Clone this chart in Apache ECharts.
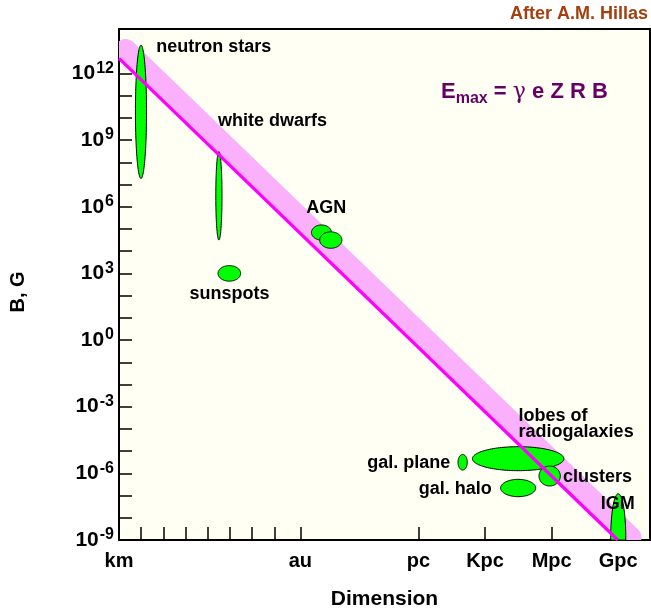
<!DOCTYPE html>
<html><head><meta charset="utf-8">
<script src="https://cdn.jsdelivr.net/npm/echarts@6/dist/echarts.min.js"></script>
<style>html,body{margin:0;padding:0;background:#fff}#c{width:651px;height:608px}</style>
</head><body><div id="c"></div>
<script>
// x: log10(size / m), y: log10(B / G)
const xTickValues = [4, 5, 6, 7, 8, 9, 10, 11.17, 16.49, 19.49, 22.49, 25.49];
const xLabelValues = [3, 11.17, 16.49, 19.49, 22.49, 25.49];
const xLabelNames = ['km', 'au', 'pc', 'Kpc', 'Mpc', 'Gpc'];

// objects (ellipses): centre log R, centre log B, half-width and half-height in decades
const objectNames = ['neutron stars', 'white dwarfs', 'sunspots', 'AGN a', 'AGN b', 'gal. plane', 'lobes', 'gal. halo', 'clusters', 'IGM'];
const objectLogR  = [3.99, 7.50, 7.97, 12.12, 12.54, 18.48, 20.98, 20.98, 22.40, 25.49];
const objectLogB  = [10.27, 6.49, 3.00, 4.84, 4.50, -5.50, -5.34, -6.66, -6.12, -8.90];
const objectHalfR = [0.25, 0.14, 0.51, 0.45, 0.50, 0.21, 2.06, 0.79, 0.48, 0.34];
const objectHalfB = [3.00, 1.99, 0.35, 0.34, 0.37, 0.35, 0.54, 0.39, 0.45, 1.98];

// Hillas line and band (band centre line end points)
const hillasLine = [[3, 12.68], [25.47, -9]];
const hillasBand = [[3.3, 13.07], [26.05, -8.88]];

// annotation texts
const labelTexts = ['neutron stars', 'white dwarfs', 'sunspots', 'AGN', 'lobes of\nradiogalaxies', 'gal. plane', 'gal. halo', 'clusters', 'IGM'];
const labelLogR  = [4.68, 7.46, 6.18, 11.43, 21.0, 17.92, 19.79, 23.0, 24.70];
const labelLogB  = [13.19, 9.86, 2.06, 5.96, -3.80, -5.53, -6.70, -6.18, -7.38];
const labelAlign = ['left', 'left', 'left', 'left', 'left', 'right', 'right', 'left', 'left'];

const FONT = '"Liberation Sans", Arial, Helvetica, sans-serif';
const chart = echarts.init(document.getElementById('c'));

chart.setOption({
  animation: false,
  backgroundColor: '#ffffff',
  grid: {left: 119, right: 1, top: 29, bottom: 68, show: true, backgroundColor: '#fffff4',
         borderColor: '#000', borderWidth: 2, outerBoundsMode: 'none'},
  xAxis: {
    type: 'value', min: 3, max: 26.92,
    axisLine: {onZero: false, lineStyle: {color: '#000', width: 2}},
    axisTick: {inside: true, length: 13, customValues: xTickValues, lineStyle: {color: '#000', width: 1.5}},
    axisLabel: {customValues: xLabelValues, margin: 11, color: '#000', fontSize: 20, fontWeight: 'bold', fontFamily: FONT,
      formatter: v => { const i = xLabelValues.findIndex(x => Math.abs(x - v) < 1e-6); return i >= 0 ? xLabelNames[i] : ''; }},
    splitLine: {show: false},
    name: 'Dimension', nameLocation: 'middle', nameGap: 49,
    nameTextStyle: {color: '#000', fontSize: 21, fontWeight: 'bold', fontFamily: FONT}
  },
  yAxis: {
    type: 'value', min: -9, max: 14, interval: 1,
    axisLine: {onZero: false, lineStyle: {color: '#000', width: 2}},
    axisTick: {inside: true, length: 13, lineStyle: {color: '#000', width: 1.5}},
    axisLabel: {margin: 5, color: '#000', fontFamily: FONT,
      formatter: v => { const n = Math.round(v); return n % 3 === 0 ? '{b|10}{s|' + n + '}' : ''; },
      rich: {
        b: {fontSize: 21, fontWeight: 'bold', fontFamily: FONT, color: '#000', lineHeight: 26, verticalAlign: 'middle'},
        s: {fontSize: 16, fontWeight: 'bold', fontFamily: FONT, color: '#000', lineHeight: 12, verticalAlign: 'top', padding: [0, 0, 0, 1]}
      }},
    splitLine: {show: false}
  },
  graphic: [
    {type: 'text', right: 3, top: 5, style: {text: 'After A.M. Hillas', fill: '#a3400f', font: 'bold 18px ' + FONT}},
    {type: 'text', x: 18, y: 292, rotation: Math.PI / 2,
     style: {text: 'B, G', fill: '#000', font: 'bold 20px ' + FONT, align: 'center', verticalAlign: 'middle'}},
    {type: 'text', left: 441, top: 81, style: {
      text: '{e|E}{s|max}{r| = }{g|γ}{r| e Z R B}',
      rich: {
        e: {fill: '#660066', fontSize: 22, fontWeight: 'bold', fontFamily: FONT, lineHeight: 30, verticalAlign: 'middle'},
        s: {fill: '#660066', fontSize: 16, fontWeight: 'bold', fontFamily: FONT, lineHeight: 14, verticalAlign: 'bottom'},
        r: {fill: '#660066', fontSize: 22, fontWeight: 'bold', fontFamily: FONT, lineHeight: 30, verticalAlign: 'middle'},
        g: {fill: '#660066', fontSize: 22, fontFamily: '"DejaVu Serif", serif', lineHeight: 30, verticalAlign: 'middle'}
      }}}
  ],
  series: [
    {type: 'custom', z: 1, silent: true, clip: true,
     data: [[hillasBand[0][0], hillasBand[0][1], hillasBand[1][0], hillasBand[1][1]]],
     renderItem: (params, api) => {
       const a = api.coord([api.value(0), api.value(1)]);
       const b = api.coord([api.value(2), api.value(3)]);
       return {type: 'line', shape: {x1: a[0], y1: a[1], x2: b[0], y2: b[1]},
               style: {stroke: '#fbb0fb', lineWidth: 21.5, lineCap: 'round'}};
     }},
    {type: 'custom', z: 2, silent: true, clip: true,
     data: objectNames.map((n, i) => [objectLogR[i], objectLogB[i], objectHalfR[i], objectHalfB[i]]),
     renderItem: (params, api) => {
       const c = api.coord([api.value(0), api.value(1)]);
       const s = api.size([api.value(2), api.value(3)]);
       const cs = params.coordSys;
       const top = cs.y, bottom = cs.y + cs.height;
       const pts = [];
       for (let k = 0; k < 120; k++) {
         const t = k / 120 * 2 * Math.PI;
         const x = c[0] + s[0] * Math.cos(t);
         const y = Math.min(bottom, Math.max(top, c[1] + s[1] * Math.sin(t)));
         pts.push([x, y]);
       }
       return {type: 'polygon', shape: {points: pts}, style: {fill: '#00ff00', stroke: '#000', lineWidth: 1}};
     }},
    {type: 'line', z: 3, data: hillasLine, symbol: 'none', silent: true, clip: true,
     lineStyle: {color: '#ff00ff', width: 3.2}},
    {type: 'custom', z: 4, silent: true,
     data: labelTexts.map((t, i) => [labelLogR[i], labelLogB[i], i]),
     renderItem: (params, api) => {
       const i = api.value(2);
       const c = api.coord([api.value(0), api.value(1)]);
       return {type: 'text', x: c[0], y: c[1], style: {text: labelTexts[i], fill: '#000',
         font: 'bold 18px ' + FONT, align: labelAlign[i], verticalAlign: 'middle', lineHeight: 16}};
     }}
  ]
});
</script></body></html>
